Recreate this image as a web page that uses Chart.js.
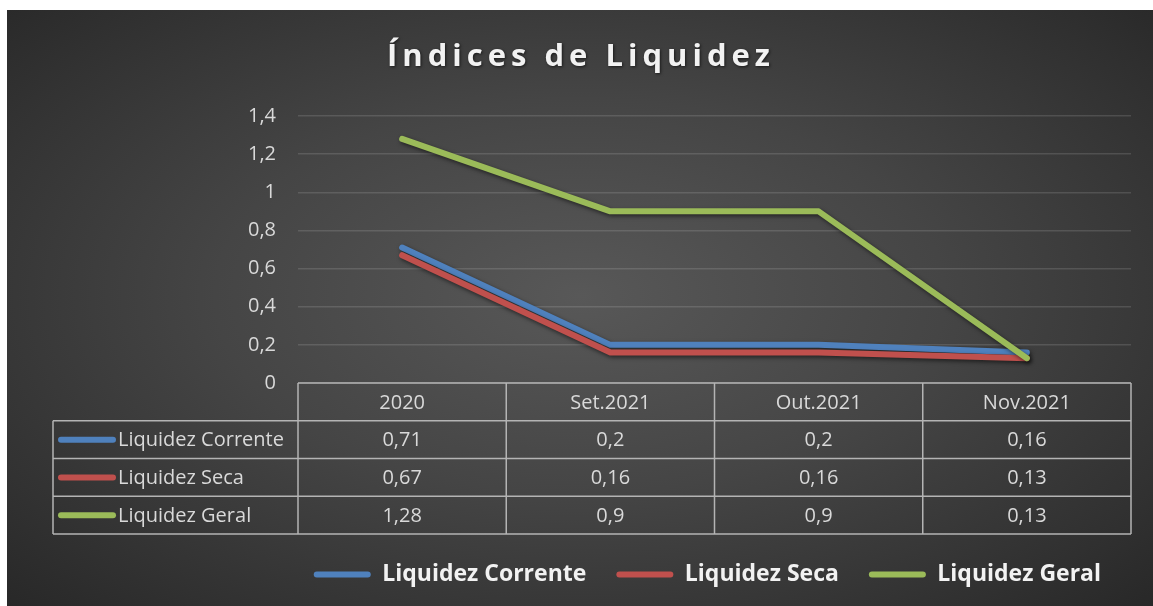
<!DOCTYPE html>
<html>
<head>
<meta charset="utf-8">
<script src="https://cdn.jsdelivr.net/npm/chart.js@4.4.1/dist/chart.umd.min.js"></script>
<style>
  html, body { margin: 0; padding: 0; background: #fff; }
  #box {
    position: absolute; left: 7px; top: 10px; width: 1146px; height: 596px;
    background: radial-gradient(ellipse at 50% 48%, #585858 0%, #454545 45%, #282828 100%);
  }
  canvas { display: block; }
</style>
</head>
<body>
<div id="box"><canvas id="chart" width="1146" height="596"></canvas></div>
<script>
const titleText = 'Índices de Liquidez';
const periods = ['2020', 'Set.2021', 'Out.2021', 'Nov.2021'];
const seriesNames = ['Liquidez Corrente', 'Liquidez Seca', 'Liquidez Geral'];
const corrente = [0.71, 0.2, 0.2, 0.16];
const seca = [0.67, 0.16, 0.16, 0.13];
const geral = [1.28, 0.9, 0.9, 0.13];
const colors = ['#4f81bd', '#c0504d', '#9bbb59'];

const FONT = '"Open Sans"';
const textColor = '#d9d9d9';
const fmt = v => v.toLocaleString('pt-BR', { maximumFractionDigits: 2 });

// title drawn with letter spacing like the original
const titlePlugin = {
    id: 'spacedTitle',
    beforeDraw(chart) {
        const c = chart.ctx;
        c.save();
        c.font = 'bold 31px ' + FONT;
        c.letterSpacing = '5px';
        c.textAlign = 'center';
        c.textBaseline = 'middle';
        c.fillStyle = '#f2f2f2';
        c.shadowColor = 'rgba(0,0,0,0.6)';
        c.shadowBlur = 3;
        c.shadowOffsetX = 1;
        c.shadowOffsetY = 1;
        c.fillText(titleText, chart.width / 2 + 1, 47);
        c.restore();
    }
};

const shadowPlugin = {
    id: 'lineShadow',
    beforeDatasetsDraw(chart) {
        const c = chart.ctx;
        c.save();
        c.shadowColor = 'rgba(0,0,0,0.55)';
        c.shadowBlur = 4;
        c.shadowOffsetX = 1.5;
        c.shadowOffsetY = 2;
    },
    afterDatasetsDraw(chart) {
        chart.ctx.restore();
    }
};

// data table under the plot, cells placed from the x scale
const tablePlugin = {
    id: 'dataTable',
    afterDraw(chart) {
        const c = chart.ctx;
        const xs = chart.scales.x;
        const area = chart.chartArea;
        const rowH = 37.75;
        const top = area.bottom;
        const leftCol = 46;
        const step = xs.getPixelForValue(1) - xs.getPixelForValue(0);
        const right = xs.getPixelForValue(periods.length - 1) + step / 2;
        const bottom = top + rowH * (seriesNames.length + 1);

        c.save();
        c.strokeStyle = '#b4b4b4';
        c.lineWidth = 1.5;
        c.beginPath();
        // horizontal lines
        c.moveTo(area.left, top); c.lineTo(right, top);
        for (let r = 1; r <= seriesNames.length + 1; r++) {
            const y = top + r * rowH;
            c.moveTo(leftCol, y); c.lineTo(right, y);
        }
        // vertical lines
        c.moveTo(leftCol, top + rowH); c.lineTo(leftCol, bottom);
        for (let i = 0; i <= periods.length; i++) {
            const x = xs.getPixelForValue(0) - step / 2 + i * step;
            c.moveTo(x, top); c.lineTo(x, bottom);
        }
        c.stroke();

        c.font = '20px ' + FONT;
        c.fillStyle = textColor;
        c.textBaseline = 'middle';
        c.textAlign = 'center';
        periods.forEach((p, i) => {
            c.fillText(p, xs.getPixelForValue(i), top + rowH / 2 + 1);
        });
        chart.data.datasets.forEach((ds, r) => {
            const yMid = top + rowH * (r + 1) + rowH / 2 + 1;
            ds.data.forEach((v, i) => {
                c.textAlign = 'center';
                c.fillStyle = textColor;
                c.fillText(fmt(v), xs.getPixelForValue(i), yMid);
            });
            // legend key in the row header
            c.strokeStyle = ds.borderColor;
            c.lineWidth = 6;
            c.lineCap = 'round';
            c.beginPath();
            c.moveTo(leftCol + 8, yMid - 1);
            c.lineTo(leftCol + 60, yMid - 1);
            c.stroke();
            c.textAlign = 'left';
            c.fillStyle = textColor;
            c.fillText(ds.label, leftCol + 65, yMid);
        });
        c.restore();
    }
};

function makeSet(label, data, color, order) {
    return {
        label: label,
        data: data,
        borderColor: color,
        backgroundColor: color,
        borderWidth: 6,
        borderCapStyle: 'round',
        borderJoinStyle: 'round',
        pointRadius: 0,
        tension: 0,
        order: order
    };
}

const chart = new Chart(document.getElementById('chart').getContext('2d'), {
    type: 'line',
    data: {
        labels: periods,
        datasets: [
            makeSet(seriesNames[0], corrente, colors[0], 2),
            makeSet(seriesNames[1], seca, colors[1], 1),
            makeSet(seriesNames[2], geral, colors[2], 0)
        ]
    },
    options: {
        responsive: false,
        animation: false,
        devicePixelRatio: 1,
        layout: { padding: { top: 106, right: 22, left: 0, bottom: 10 } },
        plugins: {
            title: { display: false },
            tooltip: { enabled: false },
            legend: {
                position: 'bottom',
                align: 'end',
                labels: {
                    boxWidth: 57,
                    boxHeight: 6,
                    useBorderRadius: true,
                    borderRadius: 3,
                    padding: 30,
                    color: '#f2f2f2',
                    font: { family: FONT, size: 23, weight: 'bold' },
                    generateLabels: ch => ch.data.datasets.map((ds, i) => ({
                        text: ds.label,
                        fillStyle: ds.borderColor,
                        strokeStyle: ds.borderColor,
                        lineWidth: 0,
                        borderRadius: 3,
                        fontColor: '#f2f2f2',
                        datasetIndex: i,
                        hidden: false
                    }))
                }
            }
        },
        scales: {
            x: {
                offset: true,
                grid: { display: false },
                border: { display: false },
                ticks: { display: false },
                afterFit: s => { s.height = 150; }
            },
            y: {
                min: 0,
                max: 1.4,
                ticks: {
                    stepSize: 0.2,
                    color: textColor,
                    padding: 22,
                    font: { family: FONT, size: 20 },
                    callback: v => fmt(v)
                },
                grid: { color: 'rgba(255,255,255,0.13)', lineWidth: 1.5, drawTicks: false },
                border: { display: false },
                afterFit: s => { s.width = 291; }
            }
        }
    },
    plugins: [titlePlugin, shadowPlugin, tablePlugin]
});
</script>
</body>
</html>
